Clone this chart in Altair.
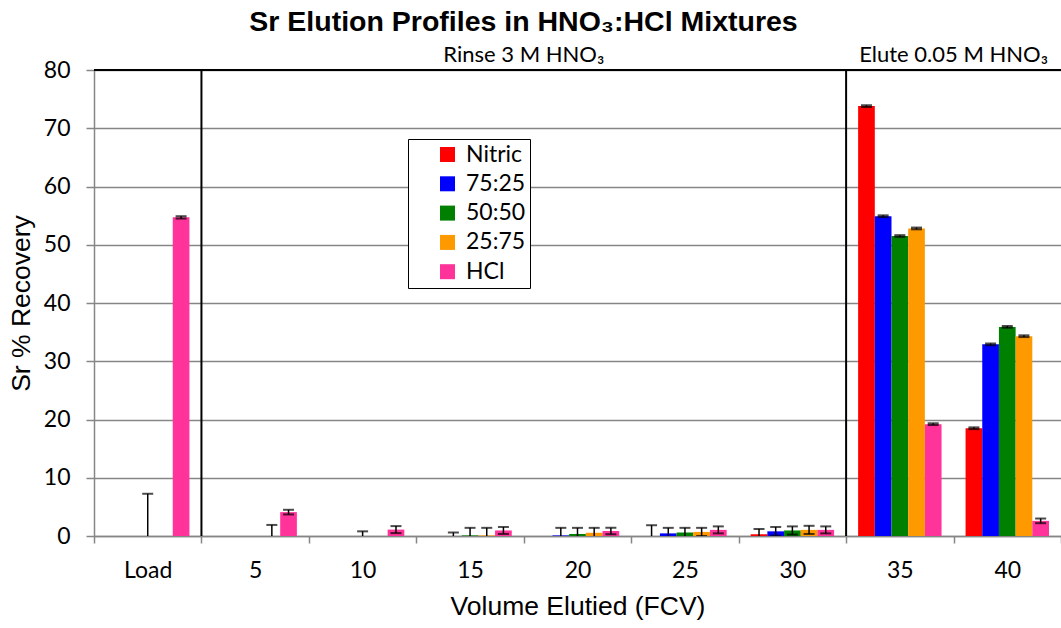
import altair as alt
import pandas as pd

# Fractional column volumes (x categories) and acid mixtures (series)
volumes = ["Load", "5", "10", "15", "20", "25", "30", "35", "40"]
mixtures = ["Nitric", "75:25", "50:50", "25:75", "HCl"]
colors = ["#FF0000", "#0000FF", "#008000", "#FF9900", "#FF3399"]

# Sr % recovery per fraction
nitric = [0.0, 0.0, 0.0, 0.0, 0.0, 0.0, 0.3, 73.8, 18.5]
mix_75_25 = [0.0, 0.0, 0.0, 0.0, 0.1, 0.45, 0.8, 54.9, 32.9]
mix_50_50 = [0.0, 0.0, 0.0, 0.1, 0.35, 0.6, 0.95, 51.5, 35.9]
mix_25_75 = [0.0, 0.0, 0.0, 0.1, 0.55, 0.7, 1.05, 52.8, 34.3]
hcl = [54.7, 4.1, 1.1, 0.95, 0.85, 1.05, 1.05, 19.2, 2.6]

# Standard deviations (0 = no error bar)
nitric_sd = [0.0, 0.0, 0.0, 0.0, 0.0, 1.85, 0.9, 0.15, 0.15]
mix_75_25_sd = [0.0, 0.0, 0.0, 0.6, 1.3, 0.95, 0.75, 0.15, 0.15]
mix_50_50_sd = [7.25, 0.0, 0.8, 1.3, 1.05, 0.8, 0.7, 0.15, 0.15]
mix_25_75_sd = [0.0, 1.9, 0.0, 1.3, 0.85, 0.7, 0.7, 0.15, 0.15]
hcl_sd = [0.2, 0.4, 0.6, 0.6, 0.55, 0.6, 0.6, 0.15, 0.4]

# Phase labels, centred on the boundary before the given fraction
phase_at = ["20", "40"]
phase_text = ["Rinse 3 M HNO\u2083", "Elute 0.05 M HNO\u2083"]
# Phase changes happen before these fractions
phase_breaks = ["5", "35"]

series_values = [nitric, mix_75_25, mix_50_50, mix_25_75, hcl]
series_sd = [nitric_sd, mix_75_25_sd, mix_50_50_sd, mix_25_75_sd, hcl_sd]

rows = []
for name, vals, sds in zip(mixtures, series_values, series_sd):
    for vol, v, s in zip(volumes, vals, sds):
        rows.append({"volume": vol, "mixture": name, "recovery": v,
                     "sd": s, "lo": v - s, "hi": v + s})
df = pd.DataFrame(rows)
err_df = df[df["sd"] > 0]

Y_TITLE = "Sr % Recovery"
x_scale = alt.Scale(paddingInner=0, paddingOuter=0)
x_axis = alt.Axis(
    title="Volume Elutied (FCV)", labelAngle=0, tickBand="extent",
    labelFont="Lato", labelFontSize=23, labelColor="black", labelPadding=16,
    titleFont="Liberation Sans", titleFontSize=26.5, titleFontWeight="normal",
    titleColor="black", titlePadding=11,
    domainColor="#868686", domainWidth=1.5, tickColor="#868686", tickSize=7,
    tickWidth=1.5, grid=False,
)
x_enc = alt.X("volume:N", sort=volumes, scale=x_scale, axis=x_axis)
xo_enc = alt.XOffset("mixture:N", sort=mixtures,
                     scale=alt.Scale(paddingInner=0, paddingOuter=0.72))
y_scale = alt.Scale(domain=[0, 80], nice=False)
y_axis = alt.Axis(
    values=list(range(0, 81, 10)), labelFont="Lato", labelFontSize=23,
    labelColor="black", labelPadding=16, tickSize=8, tickColor="#868686",
    tickWidth=1.5, domainColor="#868686", domainWidth=1.5,
    gridColor="#868686", gridWidth=1.5,
    titleFont="Liberation Sans", titleFontSize=26.5, titleFontWeight="normal",
    titleColor="black", titlePadding=8,
)

base = alt.Chart(df)

bars = base.mark_bar().encode(
    x=x_enc,
    xOffset=xo_enc,
    y=alt.Y("recovery:Q", title=Y_TITLE, scale=y_scale, axis=y_axis),
    color=alt.Color(
        "mixture:N", sort=mixtures,
        scale=alt.Scale(domain=mixtures, range=colors),
        legend=alt.Legend(
            title=None, orient="none", legendX=314, legendY=69,
            strokeColor="black", fillColor="white",
            padding=4, symbolType="square", symbolSize=225,
            symbolStrokeWidth=0, symbolOffset=24, labelOffset=7,
            labelFont="Lato", labelFontSize=23, labelColor="black",
            rowPadding=5.3,
            labelExpr="datum.label + '\u00a0\u00a0\u00a0\u00a0\u00a0\u00a0\u00a0\u00a0\u00a0\u00a0'",
        ),
    ),
)

err_base = alt.Chart(err_df)
err_rules = err_base.mark_rule(color="black", strokeWidth=1.5, clip=True).encode(
    x=x_enc, xOffset=xo_enc,
    y=alt.Y("lo:Q", title=Y_TITLE, scale=y_scale), y2="hi:Q",
)
caps_hi = err_base.mark_tick(color="black", thickness=2, size=11, clip=True).encode(
    x=x_enc, xOffset=xo_enc, y=alt.Y("hi:Q", title=Y_TITLE, scale=y_scale),
)
caps_lo = err_base.mark_tick(color="black", thickness=2, size=11, clip=True).encode(
    x=x_enc, xOffset=xo_enc, y=alt.Y("lo:Q", title=Y_TITLE, scale=y_scale),
)

breaks = alt.Chart(pd.DataFrame({"volume": phase_breaks})).mark_rule(
    color="black", strokeWidth=2
).encode(x=alt.X("volume:N", sort=volumes, scale=x_scale, axis=x_axis, bandPosition=0))

top_border = alt.Chart(pd.DataFrame({"volume": ["Load"]})).mark_rule(
    color="black", strokeWidth=2
).encode(y=alt.value(0))

phase_labels = alt.Chart(
    pd.DataFrame({"volume": phase_at, "label": phase_text})
).mark_text(font="Lato", fontSize=22, color="black", baseline="alphabetic").encode(
    x=alt.X("volume:N", sort=volumes, scale=x_scale, axis=x_axis, bandPosition=0),
    y=alt.value(-8),
    text="label:N",
)

chart = alt.layer(
    bars, err_rules, caps_hi, caps_lo, breaks, top_border, phase_labels
).properties(
    width=967,
    height=466,
    title=alt.Title(
        "Sr Elution Profiles in HNO\u2083:HCl Mixtures",
        font="Liberation Sans", fontSize=28.5, fontWeight="bold", color="black",
        anchor="middle", frame="group", dx=-54, offset=8,
    ),
    autosize=alt.AutoSizeParams(type="none"),
    padding={"left": 94, "top": 70, "right": 0, "bottom": 92},
).configure_view(stroke=None).configure_legend(strokeWidth=1.5).configure(
    background="white"
)

chart.save("out.html", embed_options={"renderer": "svg", "actions": False})
